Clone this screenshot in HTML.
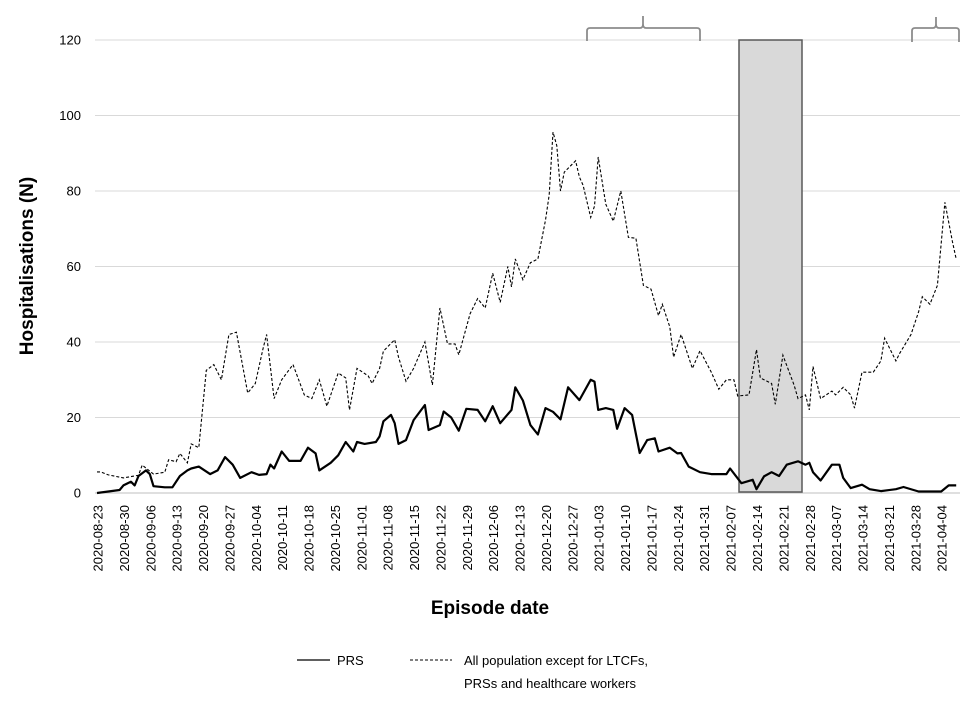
<!DOCTYPE html>
<html><head><meta charset="utf-8"><style>
body{margin:0;background:#fff;}
svg{display:block;font-family:"Liberation Sans",sans-serif;}
</style></head><body>
<svg id="chart" width="980" height="706" viewBox="0 0 980 706" xmlns="http://www.w3.org/2000/svg">
<g id="grid"></g>
<g id="yticks"></g>
<rect x="739" y="40" width="63" height="452" fill="#d9d9d9" stroke="#595959" stroke-width="1.5"/>
<path d="M587,41 L587,31 Q587,28 590,28 L640,28 Q643,28 643,24 L643,16 L643,24 Q643,28 646,28 L697,28 Q700,28 700,31 L700,41" fill="none" stroke="#8c8c8c" stroke-width="1.8"/>
<path d="M912,42 L912,31 Q912,28 915,28 L933,28 Q936,28 936,24 L936,17 L936,24 Q936,28 939,28 L956,28 Q959,28 959,31 L959,42" fill="none" stroke="#8c8c8c" stroke-width="1.8"/>
<g id="series"></g>
<g id="xticks"></g>
<text transform="translate(33,266) rotate(-90)" text-anchor="middle" font-size="19" font-weight="bold">Hospitalisations (N)</text>
<text x="490" y="614" text-anchor="middle" font-size="19" font-weight="bold">Episode date</text>
<g>
<line x1="297" y1="660" x2="330" y2="660" stroke="#000" stroke-width="1.3"/>
<text x="337" y="665" font-size="13">PRS</text>
<line x1="410" y1="660" x2="452" y2="660" stroke="#000" stroke-width="1" stroke-dasharray="3,2"/>
<text x="464" y="665" font-size="13">All population except for LTCFs,</text>
<text x="464" y="688" font-size="13">PRSs and healthcare workers</text>
</g>
</svg>
<script>
const yTicks=[0,20,40,60,80,100,120];
const startDate="2020-08-23";
const tickDayStep=7;
const tickCount=33;
const prsDays=[0,6,7,9,10,11,13,14,15,18,20,22,24,25,27,30,32,34,36,38,41,43,45,46,47,49,51,54,56,58,59,62,64,66,68,69,71,74,75,76,78,79,80,82,84,87,88,91,92,94,96,98,101,103,105,107,110,111,113,115,117,119,121,123,125,128,131,132,133,135,137,138,140,142,144,146,148,149,152,154,155,157,160,163,167,168,171,174,175,177,179,181,183,186,188,189,190,192,195,197,198,200,203,205,208,212,214,218,224,226,228];
const prsVals=[0,0.8,2,3,2,4.5,6,5,1.8,1.5,1.5,4.5,6,6.5,7,5,6,9.5,7.5,4,5.5,4.8,5,7.5,6.5,11,8.5,8.5,12,10.5,6,8,10,13.5,11,13.5,13,13.5,15,19,20.7,18.5,13,14,19.3,23.3,16.7,18,21.6,20,16.5,22.3,22,19,23,18.5,22,28,24.5,18,15.5,22.5,21.5,19.5,28,24.6,30,29.5,22,22.5,22,17,22.5,20.7,10.6,14,14.5,11,12,10.5,10.6,7,5.5,5,5,6.5,2.6,3.5,1,4.4,5.5,4.5,7.5,8.4,7.5,8,5.5,3.3,7.5,7.5,4,1.3,2.2,1,0.5,1,1.6,0.4,0.4,2,2];
const allDays=[0,1,3,7,11,12,15,18,19,21,22,24,25,27,29,31,33,35,37,40,42,44,45,47,49,52,55,57,59,61,64,66,67,69,72,73,75,76,79,80,82,84,87,89,91,93,95,96,99,101,103,105,107,109,110,111,113,115,117,119,120,121,122,123,124,127,128,129,131,132,133,135,137,139,141,143,145,147,149,150,152,153,155,158,160,163,165,167,169,170,173,175,176,179,180,182,185,186,188,189,190,192,195,196,198,200,201,203,206,208,209,212,213,216,218,219,221,223,225,227,228];
const allVals=[5.6,5.6,4.8,4,4.7,7.4,5,5.5,8.8,8.3,10.5,8,13,12,32.5,34,30,42,42.6,26.5,29,38,42,25,30,34,26,25,30,23,31.8,30.5,22,33,31,29,33,37.6,40.6,36,29.6,33,40,28.6,49,39.5,39.5,36.6,47.5,51.5,49,58.2,50.5,60,54.6,62,56.5,61,62,72.3,79,95.6,92,80,85,88,83.7,81.5,73,76,89,76.5,72,80,67.7,67.5,55,54,47,50,44,36,42,33,37.7,32,27.5,30,30,25.7,26,38,30.5,29,23.5,36.5,28.5,25,26,22,33.5,25,27,26,28,26,22.5,32,32,35,41,35,37,42,48,52,50,55,77,66.5,62];
const X0=97,DAYPX=3.7686,Y0=493,YPX=3.775;
function xs(d){return X0+d*DAYPX;}
function ys(v){return Y0-v*YPX;}
const NS="http://www.w3.org/2000/svg";
function mk(tag,attrs,parent){const e=document.createElementNS(NS,tag);for(const k in attrs)e.setAttribute(k,attrs[k]);parent.appendChild(e);return e;}
const grid=document.getElementById('grid'),yt=document.getElementById('yticks');
yTicks.forEach(v=>{
 const l=mk('line',{x1:95,x2:960,y1:ys(v),y2:ys(v),stroke:v===0?'#bfbfbf':'#d9d9d9','stroke-width':1},grid);
 
 
 const t=mk('text',{x:81,y:ys(v)+4.5,'text-anchor':'end','font-size':13},yt);
 t.textContent=v;
 
 
});
const xt=document.getElementById('xticks');
const sd=new Date(startDate+"T00:00:00Z");
for(let i=0;i<tickCount;i++){
 const d=i*tickDayStep;const dt=new Date(sd.getTime()+d*86400000);
 const lab=dt.toISOString().slice(0,10);
 const x=xs(d);
 const t=mk('text',{transform:`translate(${x+5.5},505) rotate(-90)`,'text-anchor':'end','font-size':13},xt);
 t.textContent=lab;
 
 
}
const sg=document.getElementById('series');
function pts(ds,vs){return ds.map((d,i)=>xs(d).toFixed(1)+','+ys(vs[i]).toFixed(1)).join(' ');}
const pa=mk('polyline',{points:pts(allDays,allVals),fill:'none',stroke:'#000','stroke-width':1.1,'stroke-dasharray':'3,2'},sg);


const pp=mk('polyline',{points:pts(prsDays,prsVals),fill:'none',stroke:'#000','stroke-width':2.2,'stroke-linejoin':'round'},sg);


</script>
</body></html>
